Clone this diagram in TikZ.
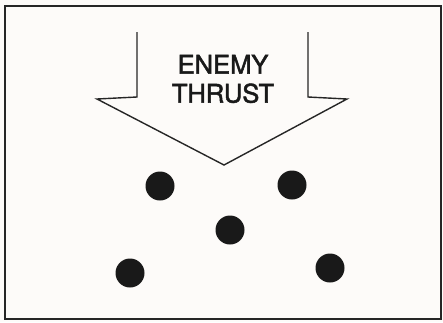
\documentclass[tikz,border=0pt]{standalone}
\usepackage{fontspec}
\setmainfont{TeX Gyre Heros}
\newfontfamily\lblfont[FakeBold=2]{TeX Gyre Heros}
\begin{document}
\begin{tikzpicture}[x=1pt,y=-1pt,
  dot/.style={circle,fill=black!90,inner sep=0pt,minimum size=29pt},
  frame/.style={draw=black!85,line width=1.8pt},
  arrowline/.style={draw=black!85,line width=1.4pt,line join=miter},
  label/.style={font=\lblfont\fontsize{25.5}{29}\selectfont,align=center,text=black!90}]
\fill[white!97!brown] (0,0) rectangle (443,322);
\useasboundingbox (0,0) rectangle (443,322);
\draw[frame] (5,6) rectangle (441,319);
\draw[arrowline] (137,32) -- (137,97) -- (97,99) -- (224,165) -- (347,99) -- (308,97) -- (308,32);
\node[label] (thrust) at (223,79) {ENEMY\\THRUST};
\node[dot] (d1) at (160,186) {};
\node[dot] (d2) at (292,185) {};
\node[dot] (d3) at (230,230) {};
\node[dot] (d4) at (130,273) {};
\node[dot] (d5) at (330,268) {};
\end{tikzpicture}
\end{document}
